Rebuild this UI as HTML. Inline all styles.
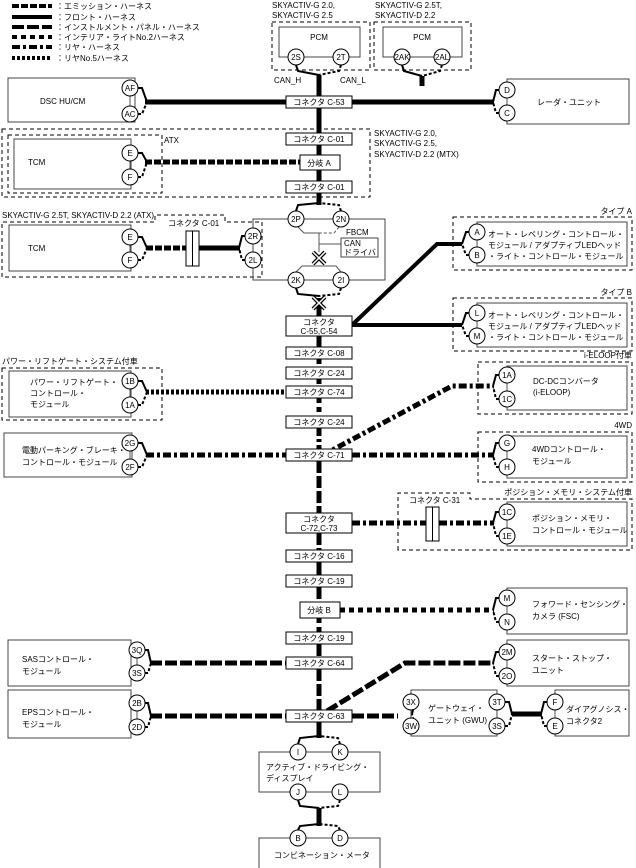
<!DOCTYPE html>
<html><head><meta charset="utf-8"><style>
html,body{margin:0;padding:0;background:#fff}
svg{display:block}
text{font-family:"Liberation Sans","Noto Sans CJK JP",sans-serif;font-size:8px;fill:#000}
.s{stroke:#000;stroke-width:5;fill:none}
.t{stroke:#000;stroke-width:4;fill:none}
.em{stroke-dasharray:7 2}
.ip{stroke-dasharray:12 3}
.il{stroke-dasharray:5 4}
.r{stroke-dasharray:8 3 3 3}
.r5{stroke-dasharray:3 2}
.f{stroke:#000;stroke-width:2;fill:none}
.fd{stroke:#000;stroke-width:2;fill:none;stroke-dasharray:3 2}
.bx{fill:#fff;stroke:#000;stroke-width:1}
.gb{fill:none;stroke:#444;stroke-width:1}
.db{fill:none;stroke:#000;stroke-width:1;stroke-dasharray:4 3}
.c{fill:#fff;stroke:#000;stroke-width:1}
.g{stroke:#555;stroke-width:1;fill:none}
</style></head><body>
<svg width="636" height="868" viewBox="0 0 636 868" xmlns="http://www.w3.org/2000/svg">
<!-- legend -->
<line x1="12" y1="6" x2="52" y2="6" class="t em"/><text x="56" y="9">：エミッション・ハーネス</text>
<line x1="12" y1="17" x2="52" y2="17" class="t"/><text x="56" y="20">：フロント・ハーネス</text>
<line x1="12" y1="27" x2="52" y2="27" class="t ip"/><text x="56" y="30">：インストルメント・パネル・ハーネス</text>
<line x1="12" y1="37" x2="52" y2="37" class="t il"/><text x="56" y="40">：インテリア・ライトNo.2ハーネス</text>
<line x1="12" y1="47" x2="52" y2="47" class="t r"/><text x="56" y="50">：リヤ・ハーネス</text>
<line x1="12" y1="58" x2="52" y2="58" class="t r5"/><text x="56" y="61">：リヤNo.5ハーネス</text>

<!-- main trunk segments -->
<line x1="319" y1="75" x2="319" y2="96" class="s"/>
<line x1="319" y1="108" x2="319" y2="133" class="s"/>
<line x1="319" y1="145" x2="319" y2="155" class="s ip"/>
<line x1="319" y1="170" x2="319" y2="181" class="s ip"/>
<line x1="319" y1="193" x2="319" y2="205" class="s"/>
<line x1="319" y1="298" x2="319" y2="316" class="s"/>
<line x1="319" y1="336" x2="319" y2="347" class="s"/>
<line x1="319" y1="359" x2="319" y2="367" class="s il"/>
<line x1="319" y1="379" x2="319" y2="386" class="s il"/>
<line x1="319" y1="398" x2="319" y2="416" class="s il"/>
<line x1="319" y1="428" x2="319" y2="449" class="s r"/>
<line x1="319" y1="461" x2="319" y2="513" class="s ip"/>
<line x1="319" y1="533" x2="319" y2="550" class="s ip"/>
<line x1="319" y1="562" x2="319" y2="575" class="s"/>
<line x1="319" y1="587" x2="319" y2="602" class="s ip"/>
<line x1="319" y1="618" x2="319" y2="632" class="s il"/>
<line x1="319" y1="644" x2="319" y2="657" class="s ip"/>
<line x1="319" y1="669" x2="319" y2="710" class="s ip"/>
<line x1="319" y1="722" x2="319" y2="738" class="s"/>
<line x1="319" y1="808" x2="319" y2="826" class="s"/>

<!-- horizontal runs -->
<line x1="145" y1="102" x2="286" y2="102" class="s"/>
<line x1="352" y1="102" x2="494" y2="102" class="s"/>
<line x1="145" y1="162" x2="300" y2="162" class="s em"/>
<line x1="146" y1="248" x2="186" y2="248" class="s em"/>
<line x1="199" y1="248" x2="240" y2="248" class="s"/>
<polyline points="352,325 437,244 462,244" class="t"/>
<line x1="352" y1="325" x2="462" y2="325" class="t"/>
<line x1="146" y1="392" x2="286" y2="392" class="s r5"/>
<polyline points="323,455 452,386 494,386" class="s r"/>
<line x1="146" y1="455" x2="286" y2="455" class="s r"/>
<line x1="352" y1="455" x2="494" y2="455" class="s r"/>
<line x1="352" y1="523" x2="426" y2="523" class="s r"/>
<line x1="439" y1="523" x2="494" y2="523" class="s r"/>
<line x1="340" y1="610" x2="494" y2="610" class="s il"/>
<line x1="150" y1="663" x2="286" y2="663" class="s ip"/>
<polyline points="327,711 405,663 494,663" class="s ip"/>
<line x1="150" y1="716" x2="286" y2="716" class="s ip"/>
<line x1="352" y1="716" x2="398" y2="716" class="s ip"/>
<line x1="512" y1="714" x2="542" y2="714" class="s"/>
<line x1="422" y1="76" x2="422" y2="86" class="s"/>

<!-- forks: left components (circles at left, trunk to right) -->
<g>
<polyline points="138,88 142,88 147,102" class="f"/><polyline points="138,114 142,114 147,102" class="fd"/>
<polyline points="138,153 142,153 147,162" class="f"/><polyline points="138,177 142,177 147,162" class="fd"/>
<polyline points="138,237 142,237 147,248" class="f"/><polyline points="138,260 142,260 147,248" class="fd"/>
<polyline points="138,381 142,381 147,392" class="f"/><polyline points="138,405 142,405 147,392" class="fd"/>
<polyline points="138,443 142,443 147,455" class="f"/><polyline points="138,467 142,467 147,455" class="fd"/>
<polyline points="145,650 148,650 151,663" class="f"/><polyline points="145,673 148,673 151,663" class="fd"/>
<polyline points="145,703 148,703 151,716" class="f"/><polyline points="145,727 148,727 151,716" class="fd"/>
<polyline points="419,702 415,702 412,714" class="f"/><polyline points="419,726 415,726 412,714" class="fd"/>
<polyline points="505,702 509,702 512,714" class="f"/><polyline points="505,726 509,726 512,714" class="fd"/>
<!-- right components -->
<polyline points="499,90 496,90 493,102" class="f"/><polyline points="499,113 496,113 493,102" class="fd"/>
<polyline points="245,236 242,236 239,248" class="f"/><polyline points="245,260 242,260 239,248" class="fd"/>
<polyline points="469,232 466,232 462,244" class="f"/><polyline points="469,255 466,255 462,244" class="fd"/>
<polyline points="469,313 466,313 462,325" class="f"/><polyline points="469,336 466,336 462,325" class="fd"/>
<polyline points="499,375 496,375 493,386" class="f"/><polyline points="499,399 496,399 493,386" class="fd"/>
<polyline points="499,443 496,443 493,455" class="f"/><polyline points="499,467 496,467 493,455" class="fd"/>
<polyline points="499,512 496,512 493,523" class="f"/><polyline points="499,536 496,536 493,523" class="fd"/>
<polyline points="499,598 496,598 493,610" class="f"/><polyline points="499,622 496,622 493,610" class="fd"/>
<polyline points="499,652 496,652 493,663" class="f"/><polyline points="499,676 496,676 493,663" class="fd"/>
<polyline points="547,702 544,702 541,714" class="f"/><polyline points="547,726 544,726 541,714" class="fd"/>
<!-- vertical forks -->
<polyline points="296,65 298,71 319,75" class="f"/><polyline points="341,65 339,71 319,75" class="fd"/>
<polyline points="402,65 404,71 422,76" class="f"/><polyline points="442,65 440,71 422,76" class="fd"/>
<polyline points="296,211 298,205 319,203" class="f"/><polyline points="341,211 339,205 319,203" class="fd"/>
<polyline points="296,288 298,294 319,296" class="f"/><polyline points="341,288 339,294 319,296" class="fd"/>
<polyline points="298,744 300,738 319,736" class="f"/><polyline points="340,744 338,738 319,736" class="fd"/>
<polyline points="298,800 300,806 319,808" class="f"/><polyline points="340,800 338,806 319,808" class="fd"/>
<polyline points="298,830 300,826 319,824" class="f"/><polyline points="340,830 338,826 319,824" class="fd"/>
</g>

<!-- dashed group boxes -->
<rect x="272" y="22" width="98" height="48" class="db"/>
<rect x="374" y="22" width="97" height="48" class="db"/>
<rect x="2" y="129" width="368" height="68" class="db"/>
<rect x="8" y="135" width="154" height="58" class="db"/>
<path d="M2,277 V222 H155 V215 H225 V222 H262 V277 Z" class="db"/>
<rect x="2" y="368" width="160" height="52" class="db"/>
<rect x="453" y="217" width="179" height="53" class="db"/>
<rect x="453" y="298" width="179" height="53" class="db"/>
<rect x="478" y="362" width="154" height="52" class="db"/>
<rect x="478" y="432" width="154" height="50" class="db"/>
<path d="M398,550 V493 H470 V499 H632 V550 Z" class="db"/>

<!-- component boxes -->
<rect x="279" y="27" width="81" height="30" class="gb"/>
<rect x="383" y="27" width="79" height="30" class="gb"/>
<rect x="8" y="78" width="127" height="44" class="gb"/>
<rect x="14" y="139" width="117" height="50" class="gb"/>
<rect x="9" y="225" width="122" height="46" class="gb"/>
<rect x="253" y="219" width="132" height="61" class="gb"/>
<rect x="341" y="238" width="37" height="19" class="gb"/>
<rect x="9" y="371" width="122" height="46" class="gb"/>
<rect x="4" y="433" width="128" height="44" class="gb"/>
<rect x="8" y="640" width="123" height="46" class="gb"/>
<rect x="8" y="690" width="123" height="48" class="gb"/>
<rect x="507" y="79" width="122" height="45" class="gb"/>
<rect x="477" y="222" width="150" height="44" class="gb"/>
<rect x="477" y="303" width="150" height="44" class="gb"/>
<rect x="507" y="366" width="120" height="44" class="gb"/>
<rect x="507" y="436" width="120" height="42" class="gb"/>
<rect x="507" y="502" width="120" height="44" class="gb"/>
<rect x="507" y="588" width="120" height="46" class="gb"/>
<rect x="507" y="640" width="122" height="46" class="gb"/>
<rect x="411" y="690" width="86" height="46" class="gb"/>
<rect x="555" y="690" width="74" height="46" class="gb"/>
<rect x="259" y="752" width="121" height="40" class="gb"/>
<rect x="259" y="838" width="121" height="36" class="gb"/>
<!-- circle link lines -->
<g class="g"><line x1="130" y1="88" x2="130" y2="114"/><line x1="130" y1="153" x2="130" y2="177"/><line x1="130" y1="237" x2="130" y2="260"/><line x1="130" y1="381" x2="130" y2="405"/><line x1="130" y1="443" x2="130" y2="467"/><line x1="137" y1="650" x2="137" y2="673"/><line x1="137" y1="703" x2="137" y2="727"/><line x1="507" y1="90" x2="507" y2="113"/><line x1="477" y1="232" x2="477" y2="255"/><line x1="477" y1="313" x2="477" y2="336"/><line x1="507" y1="375" x2="507" y2="399"/><line x1="507" y1="443" x2="507" y2="467"/><line x1="507" y1="512" x2="507" y2="536"/><line x1="507" y1="598" x2="507" y2="622"/><line x1="507" y1="652" x2="507" y2="676"/><line x1="555" y1="702" x2="555" y2="726"/>
<polyline points="298,227 304,233 319,233"/><polyline points="339,227 334,233 319,233" stroke-dasharray="3 2"/><line x1="319" y1="233" x2="319" y2="252"/><line x1="319" y1="244" x2="341" y2="244"/>
<polyline points="296,272 302,266 336,266 341,272"/></g>
<!-- X marks -->
<g stroke="#000" stroke-width="4"><line x1="313" y1="252" x2="325" y2="264"/><line x1="325" y1="252" x2="313" y2="264"/><line x1="313" y1="297" x2="325" y2="309"/><line x1="325" y1="297" x2="313" y2="309"/></g>
<g stroke="#fff" stroke-width="1.5"><line x1="313" y1="252" x2="325" y2="264"/><line x1="325" y1="252" x2="313" y2="264"/><line x1="313" y1="297" x2="325" y2="309"/><line x1="325" y1="297" x2="313" y2="309"/></g>
<!-- inline connectors C-01, C-31 -->
<rect x="186" y="231" width="13" height="35" class="bx"/><line x1="192.5" y1="231" x2="192.5" y2="266" stroke="#000"/>
<rect x="426" y="507" width="13" height="34" class="bx"/><line x1="432.5" y1="507" x2="432.5" y2="541" stroke="#000"/>

<!-- connector boxes -->
<g>
<rect x="286" y="96" width="66" height="12" class="bx"/><text x="319" y="105" text-anchor="middle">コネクタ C-53</text>
<rect x="286" y="133" width="66" height="12" class="bx"/><text x="319" y="142" text-anchor="middle">コネクタ C-01</text>
<rect x="300" y="155" width="40" height="15" class="bx"/><text x="319" y="166" text-anchor="middle">分岐 A</text>
<rect x="286" y="181" width="66" height="12" class="bx"/><text x="319" y="190" text-anchor="middle">コネクタ C-01</text>
<rect x="286" y="316" width="66" height="20" class="bx"/><text x="319" y="325" text-anchor="middle">コネクタ</text><text x="319" y="334" text-anchor="middle">C-55,C-54</text>
<rect x="286" y="347" width="66" height="12" class="bx"/><text x="319" y="356" text-anchor="middle">コネクタ C-08</text>
<rect x="286" y="367" width="66" height="12" class="bx"/><text x="319" y="376" text-anchor="middle">コネクタ C-24</text>
<rect x="286" y="386" width="66" height="12" class="bx"/><text x="319" y="395" text-anchor="middle">コネクタ C-74</text>
<rect x="286" y="416" width="66" height="12" class="bx"/><text x="319" y="425" text-anchor="middle">コネクタ C-24</text>
<rect x="286" y="449" width="66" height="12" class="bx"/><text x="319" y="458" text-anchor="middle">コネクタ C-71</text>
<rect x="286" y="513" width="66" height="20" class="bx"/><text x="319" y="522" text-anchor="middle">コネクタ</text><text x="319" y="531" text-anchor="middle">C-72,C-73</text>
<rect x="286" y="550" width="66" height="12" class="bx"/><text x="319" y="559" text-anchor="middle">コネクタ C-16</text>
<rect x="286" y="575" width="66" height="12" class="bx"/><text x="319" y="584" text-anchor="middle">コネクタ C-19</text>
<rect x="300" y="602" width="40" height="16" class="bx"/><text x="319" y="613" text-anchor="middle">分岐 B</text>
<rect x="286" y="632" width="66" height="12" class="bx"/><text x="319" y="641" text-anchor="middle">コネクタ C-19</text>
<rect x="286" y="657" width="66" height="12" class="bx"/><text x="319" y="666" text-anchor="middle">コネクタ C-64</text>
<rect x="286" y="710" width="66" height="12" class="bx"/><text x="319" y="719" text-anchor="middle">コネクタ C-63</text>
</g>

<!-- circles -->
<g font-size="8">
<g class="c">
<circle cx="296" cy="57" r="8"/><circle cx="341" cy="57" r="8"/><circle cx="402" cy="57" r="8"/><circle cx="442" cy="57" r="8"/>
<circle cx="130" cy="88" r="8"/><circle cx="130" cy="114" r="8"/><circle cx="130" cy="153" r="8"/><circle cx="130" cy="177" r="8"/>
<circle cx="130" cy="237" r="8"/><circle cx="130" cy="260" r="8"/><circle cx="253" cy="236" r="8"/><circle cx="253" cy="260" r="8"/>
<circle cx="296" cy="219" r="8"/><circle cx="341" cy="219" r="8"/><circle cx="296" cy="280" r="8"/><circle cx="341" cy="280" r="8"/>
<circle cx="130" cy="381" r="8"/><circle cx="130" cy="405" r="8"/><circle cx="130" cy="443" r="8"/><circle cx="130" cy="467" r="8"/>
<circle cx="137" cy="650" r="8"/><circle cx="137" cy="673" r="8"/><circle cx="137" cy="703" r="8"/><circle cx="137" cy="727" r="8"/>
<circle cx="507" cy="90" r="8"/><circle cx="507" cy="113" r="8"/><circle cx="477" cy="232" r="8"/><circle cx="477" cy="255" r="8"/>
<circle cx="477" cy="313" r="8"/><circle cx="477" cy="336" r="8"/><circle cx="507" cy="375" r="8"/><circle cx="507" cy="399" r="8"/>
<circle cx="507" cy="443" r="8"/><circle cx="507" cy="467" r="8"/><circle cx="507" cy="512" r="8"/><circle cx="507" cy="536" r="8"/>
<circle cx="507" cy="598" r="8"/><circle cx="507" cy="622" r="8"/><circle cx="507" cy="652" r="8"/><circle cx="507" cy="676" r="8"/>
<circle cx="411" cy="702" r="8"/><circle cx="411" cy="726" r="8"/><circle cx="497" cy="702" r="8"/><circle cx="497" cy="726" r="8"/>
<circle cx="555" cy="702" r="8"/><circle cx="555" cy="726" r="8"/>
<circle cx="298" cy="752" r="8"/><circle cx="340" cy="752" r="8"/><circle cx="298" cy="792" r="8"/><circle cx="340" cy="792" r="8"/>
<circle cx="298" cy="838" r="8"/><circle cx="340" cy="838" r="8"/>
</g>
<g text-anchor="middle">
<text x="296" y="60">2S</text><text x="341" y="60">2T</text><text x="402" y="60">2AK</text><text x="442" y="60">2AL</text>
<text x="130" y="91">AF</text><text x="130" y="117">AC</text><text x="130" y="156">E</text><text x="130" y="180">F</text>
<text x="130" y="240">E</text><text x="130" y="263">F</text><text x="253" y="239">2R</text><text x="253" y="263">2L</text>
<text x="296" y="222">2P</text><text x="341" y="222">2N</text><text x="296" y="283">2K</text><text x="341" y="283">2I</text>
<text x="130" y="384">1B</text><text x="130" y="408">1A</text><text x="130" y="446">2G</text><text x="130" y="470">2F</text>
<text x="137" y="653">3Q</text><text x="137" y="676">3S</text><text x="137" y="706">2B</text><text x="137" y="730">2D</text>
<text x="507" y="93">D</text><text x="507" y="116">C</text><text x="477" y="235">A</text><text x="477" y="258">B</text>
<text x="477" y="316">L</text><text x="477" y="339">M</text><text x="507" y="378">1A</text><text x="507" y="402">1C</text>
<text x="507" y="446">G</text><text x="507" y="470">H</text><text x="507" y="515">1C</text><text x="507" y="539">1E</text>
<text x="507" y="601">M</text><text x="507" y="625">N</text><text x="507" y="655">2M</text><text x="507" y="679">2O</text>
<text x="411" y="705">3X</text><text x="411" y="729">3W</text><text x="497" y="705">3T</text><text x="497" y="729">3S</text>
<text x="555" y="705">F</text><text x="555" y="729">E</text>
<text x="298" y="755">I</text><text x="340" y="755">K</text><text x="298" y="795">J</text><text x="340" y="795">L</text>
<text x="298" y="841">B</text><text x="340" y="841">D</text>
</g>
</g>

<!-- labels -->
<text x="272" y="8">SKYACTIV-G 2.0,</text><text x="272" y="18">SKYACTIV-G 2.5</text>
<text x="375" y="8">SKYACTIV-G 2.5T,</text><text x="375" y="18">SKYACTIV-D 2.2</text>
<text x="319" y="40" text-anchor="middle">PCM</text><text x="422" y="40" text-anchor="middle">PCM</text>
<text x="274" y="83">CAN_H</text><text x="340" y="83">CAN_L</text>
<text x="40" y="104">DSC HU/CM</text>
<text x="537" y="105">レーダ・ユニット</text>
<text x="164" y="143">ATX</text>
<text x="374" y="136">SKYACTIV-G 2.0,</text><text x="374" y="146">SKYACTIV-G 2.5,</text><text x="374" y="157">SKYACTIV-D 2.2 (MTX)</text>
<text x="28" y="165">TCM</text>
<text x="2" y="218">SKYACTIV-G 2.5T, SKYACTIV-D 2.2 (ATX)</text>
<text x="168" y="226">コネクタ C-01</text>
<text x="28" y="251">TCM</text>
<text x="346" y="235">FBCM</text>
<text x="344" y="246">CAN</text><text x="344" y="255">ドライバ</text>
<text x="632" y="214" text-anchor="end">タイプ A</text>
<text x="488" y="237">オート・レベリング・コントロール・</text><text x="488" y="248">モジュール / アダプティブLEDヘッド</text><text x="488" y="259">・ライト・コントロール・モジュール</text>
<text x="632" y="295" text-anchor="end">タイプ B</text>
<text x="488" y="318">オート・レベリング・コントロール・</text><text x="488" y="329">モジュール / アダプティブLEDヘッド</text><text x="488" y="340">・ライト・コントロール・モジュール</text>
<text x="632" y="358" text-anchor="end">i-ELOOP付車</text>
<text x="533" y="384">DC-DCコンバータ</text><text x="533" y="395">(i-ELOOP)</text>
<text x="2" y="364">パワー・リフトゲート・システム付車</text>
<text x="30" y="385">パワー・リフトゲート・</text><text x="30" y="396">コントロール・</text><text x="30" y="407">モジュール</text>
<text x="632" y="428" text-anchor="end">4WD</text>
<text x="22" y="453">電動パーキング・ブレーキ・</text><text x="22" y="465">コントロール・モジュール</text>
<text x="532" y="452">4WDコントロール・</text><text x="532" y="464">モジュール</text>
<text x="632" y="495" text-anchor="end">ポジション・メモリ・システム付車</text>
<text x="409" y="503">コネクタ C-31</text>
<text x="532" y="521">ポジション・メモリ・</text><text x="532" y="533">コントロール・モジュール</text>
<text x="532" y="607">フォワード・センシング・</text><text x="532" y="619">カメラ (FSC)</text>
<text x="22" y="662">SASコントロール・</text><text x="22" y="674">モジュール</text>
<text x="532" y="661">スタート・ストップ・</text><text x="532" y="673">ユニット</text>
<text x="22" y="715">EPSコントロール・</text><text x="22" y="727">モジュール</text>
<text x="428" y="711">ゲートウェイ・</text><text x="428" y="723">ユニット (GWU)</text>
<text x="566" y="712">ダイアグノシス・</text><text x="566" y="724">コネクタ2</text>
<text x="266" y="770">アクティブ・ドライビング・</text><text x="266" y="781">ディスプレイ</text>
<text x="274" y="858">コンビネーション・メータ</text>
</svg>
</body></html>
